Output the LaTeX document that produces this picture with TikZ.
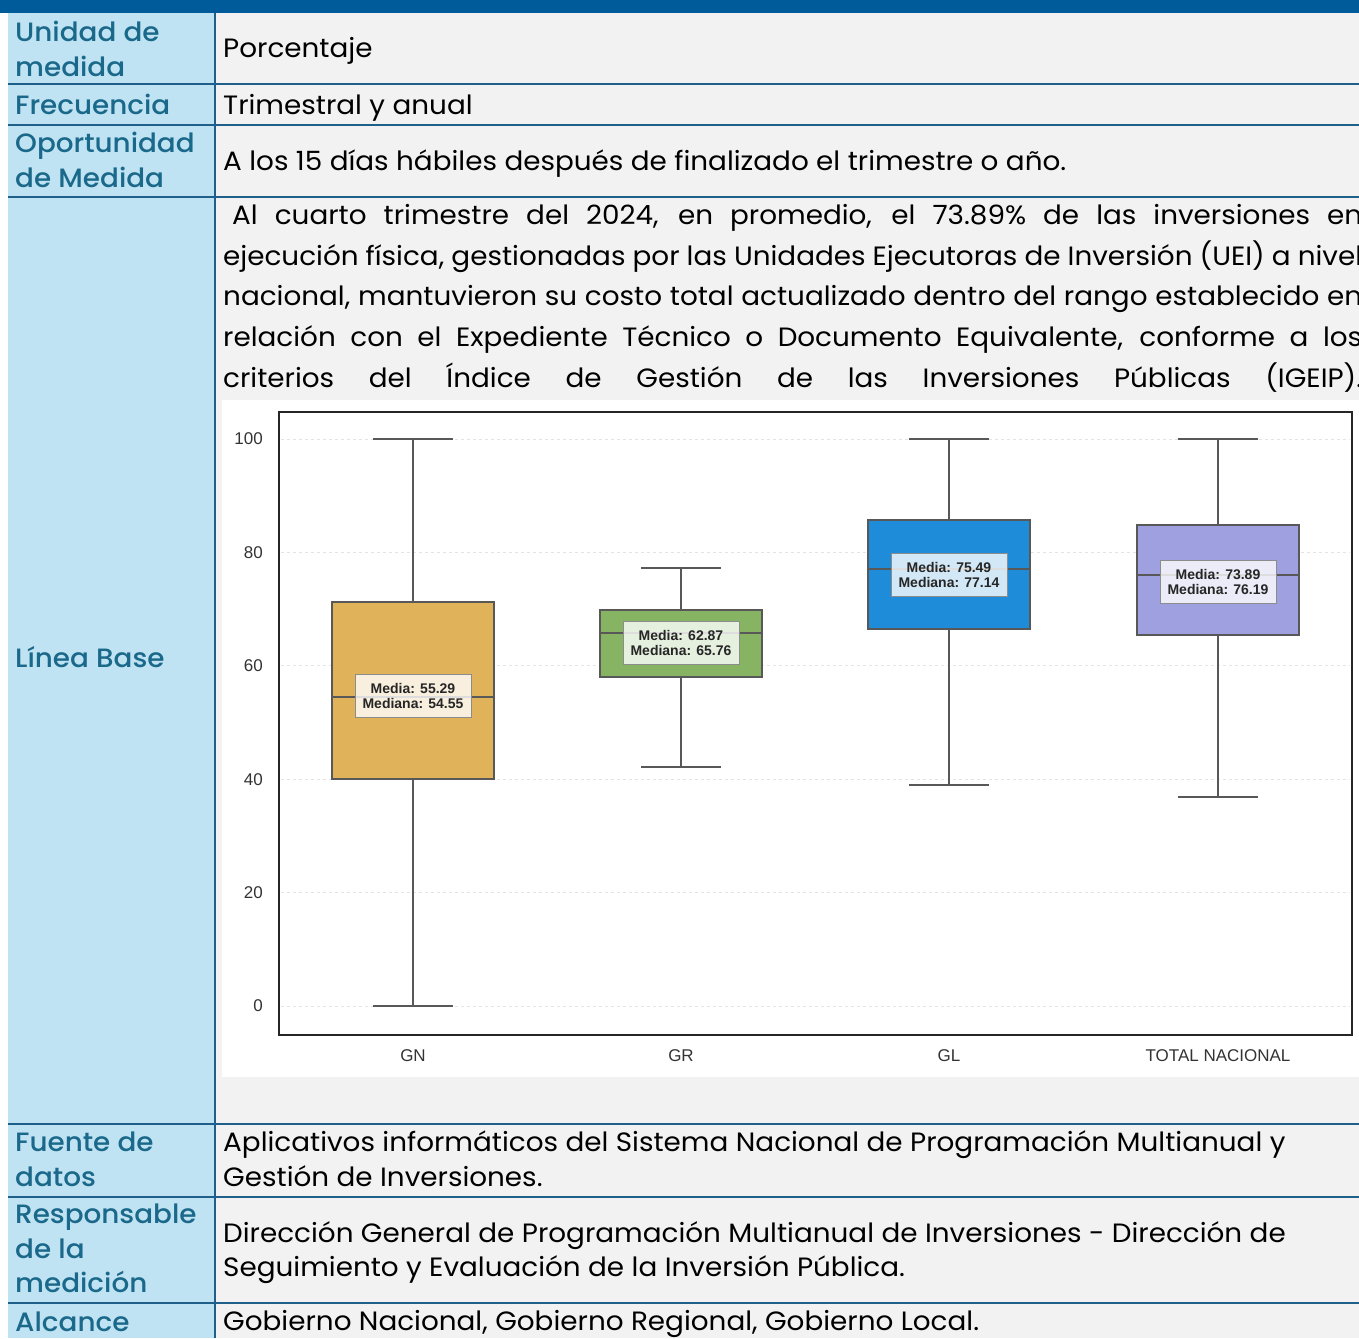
\documentclass[tikz,border=0pt]{standalone}
\usepackage{fontspec}
\setmainfont{Poppins}[FakeStretch=1.05]
\newfontfamily\labelfont{Poppins Medium}[FakeStretch=1.05]
\newfontfamily\chartfont{Liberation Sans}
\usetikzlibrary{positioning}

\definecolor{barblue}{RGB}{0,91,154}
\definecolor{rulecol}{RGB}{30,96,138}
\definecolor{labelbg}{RGB}{191,227,243}
\definecolor{cellbg}{RGB}{242,242,242}
\definecolor{labeltext}{RGB}{26,104,138}
\definecolor{boxline}{RGB}{88,88,88}
\definecolor{gridcol}{RGB}{228,228,228}
\definecolor{boxGN}{RGB}{224,179,90}
\definecolor{boxGR}{RGB}{134,180,99}
\definecolor{boxGL}{RGB}{30,140,217}
\definecolor{boxTN}{RGB}{158,160,224}

\begin{document}
\begin{tikzpicture}[x=1pt,y=-1pt,
    rowlabel/.style={anchor=base west, inner sep=0pt, text=labeltext,
      font=\labelfont\fontsize{26.5}{34}\selectfont},
    celltext/.style={anchor=base west, inner sep=0pt,
      font=\fontsize{26.5}{34}\selectfont},
    rowrule/.style={draw=rulecol, line width=2.5pt},
    gridline/.style={draw=gridcol, dashed, line width=0.8pt},
    whisker/.style={draw=boxline, line width=2pt},
    ticklabel/.style={anchor=east, inner sep=0pt, text=black!80,
      font=\chartfont\fontsize{17}{20}\selectfont},
    statbox/.style={fill=white, fill opacity=0.8, text opacity=1,
      draw=black!45, line width=1pt, inner sep=0pt, align=center,
      minimum width=116pt, minimum height=43pt, text=black!85,
      font=\chartfont\bfseries\fontsize{14}{15}\selectfont}]
  \useasboundingbox (0,0) rectangle (1359,1338);
  \clip (0,0) rectangle (1359,1338);
  % Table background
  \fill[white] (0,0) rectangle (1359,1338);
  \fill[labelbg] (8,13) rectangle (215,1338);
  \fill[cellbg] (215,13) rectangle (1359,1338);
  \fill[barblue] (0,0) rectangle (1359,13);
  % Rules
  \foreach \yy in {84,125,197,1124,1197,1303}
    \draw[rowrule] (8,\yy) -- (1359,\yy);
  \draw[rowrule] (215,13) -- (215,1338);

  % Row labels
  \foreach \yy/\txt [count=\i] in {42/Unidad de, 76/medida, 114/Frecuencia,
      152/Oportunidad, 187/de Medida, 667/Línea Base, 1151/Fuente de,
      1186/datos, 1223/Responsable, 1258/de la, 1292/medición, 1331/Alcance}
    \node[rowlabel] (label\i) at (15,\yy) {\txt};

  % Cell texts
  \foreach \yy/\txt [count=\i] in {57/Porcentaje, 114/Trimestral y anual,
      170/{A los 15 días hábiles después de finalizado el trimestre o año.},
      1151/{Aplicativos informáticos del Sistema Nacional de Programación Multianual y},
      1186/{Gestión de Inversiones.},
      1242/{Dirección General de Programación Multianual de Inversiones - Dirección de},
      1276/{Seguimiento y Evaluación de la Inversión Pública.},
      1330/{Gobierno Nacional, Gobierno Regional, Gobierno Local.}}
    \node[celltext] (cell\i) at (223,\yy) {\txt};

  % Justified paragraph
  \foreach \yy/\txt [count=\i] in {
      224/{\hspace*{9pt}Al cuarto trimestre del 2024, en promedio, el 73.89\% de las inversiones en},
      265/{ejecución física, gestionadas por las Unidades Ejecutoras de Inversión (UEI) a nivel},
      305/{nacional, mantuvieron su costo total actualizado dentro del rango establecido en},
      346/{relación con el Expediente Técnico o Documento Equivalente, conforme a los},
      387/{criterios del Índice de Gestión de las Inversiones Públicas (IGEIP).}}
    \node[celltext] (para\i) at (223,\yy) {\makebox[1139pt][s]{\txt}};

  % Chart
  \fill[white] (222,400) rectangle (1359,1077);
  \begin{scope}[shift={(0,1006)}, y=5.67pt]
    \foreach \v in {0,20,...,100} {
      \draw[gridline] (281,\v) -- (1350,\v);
      \node[ticklabel] (tick\v) at (263,\v) {\v};
    }
    \draw[black!85, line width=2pt] (279,-5.11) rectangle (1352,104.76);
    \foreach \nm/\cx/\col/\lo/\qa/\md/\qc/\hi/\ly/\mn/\mdn in {
        gn/413/boxGN/0/40/54.55/71.25/100/54.67/55.29/54.55,
        gr/681/boxGR/42.15/58.02/65.78/69.84/77.25/64.1/62.87/65.76,
        gl/949/boxGL/38.98/66.49/77.07/85.71/100/76.1/75.49/77.14,
        tn/1218/boxTN/36.86/65.43/76.01/84.83/100/74.78/73.89/76.19} {
      \draw[whisker] (\cx,\lo) -- (\cx,\qa);
      \draw[whisker] (\cx,\qc) -- (\cx,\hi);
      \draw[whisker] (\cx-40,\lo) -- (\cx+40,\lo);
      \draw[whisker] (\cx-40,\hi) -- (\cx+40,\hi);
      \filldraw[fill=\col, draw=boxline, line width=2pt]
        (\cx-81,\qa) rectangle (\cx+81,\qc);
      \draw[whisker] (\cx-81,\md) -- (\cx+81,\md);
      \node[statbox] (stat\nm) at (\cx,\ly) {Media: \mn\\Mediana: \mdn};
    }
    \foreach \nm/\cx/\txt in {gn/413/GN, gr/681/GR, gl/949/GL, tn/1218/TOTAL NACIONAL}
      \node[ticklabel, anchor=center] (axis\nm) at (\cx,-8.82) {\txt};
  \end{scope}
\end{tikzpicture}
\end{document}
